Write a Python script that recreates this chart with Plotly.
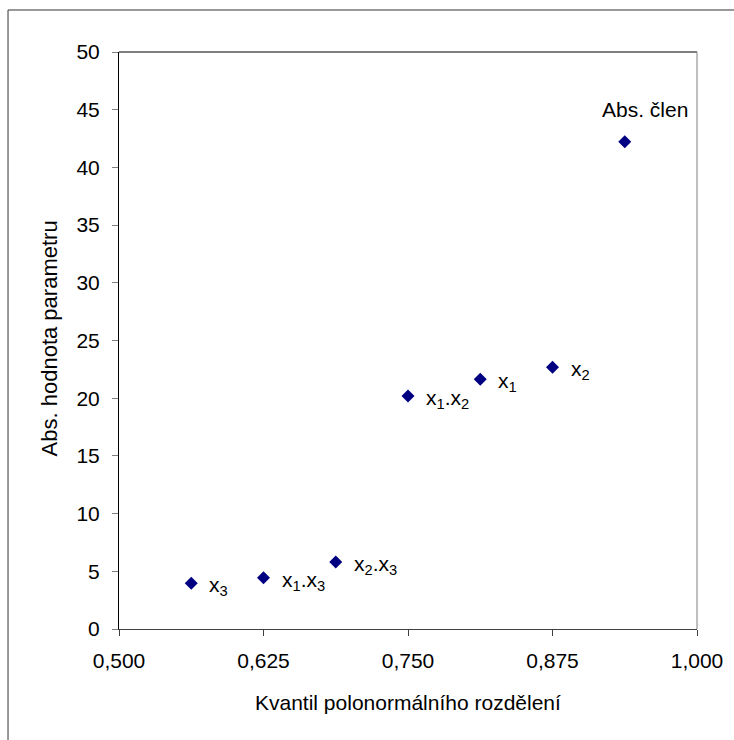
import plotly.graph_objects as go

# Half-normal plot of absolute parameter estimates
effects = ["x<sub>3</sub>", "x<sub>1</sub>.x<sub>3</sub>", "x<sub>2</sub>.x<sub>3</sub>",
           "x<sub>1</sub>.x<sub>2</sub>", "x<sub>1</sub>", "x<sub>2</sub>", "Abs. člen"]
quantiles = [0.5625, 0.625, 0.6875, 0.75, 0.8125, 0.875, 0.9375]
abs_values = [3.96, 4.45, 5.81, 20.19, 21.64, 22.68, 42.23]

x_ticks = [0.5, 0.625, 0.75, 0.875, 1.0]
x_tick_text = ["0,500", "0,625", "0,750", "0,875", "1,000"]
y_ticks = [0, 5, 10, 15, 20, 25, 30, 35, 40, 45, 50]

FONT = "Liberation Sans, Arial, sans-serif"

fig = go.Figure()
fig.add_trace(go.Scatter(
    x=quantiles, y=abs_values, mode="markers",
    marker=dict(symbol="diamond", size=10, color="#000080", line=dict(width=0)),
    showlegend=False, hoverinfo="x+y",
))

# point labels: effects to the right, intercept above
annotations = []
for name, qx, qy in zip(effects, quantiles, abs_values):
    if name == "Abs. člen":
        annotations.append(dict(x=qx, y=qy, text=name, showarrow=False,
                                xanchor="center", yanchor="middle",
                                xshift=20, yshift=32,
                                font=dict(family=FONT, size=21, color="#000")))
    else:
        annotations.append(dict(x=qx, y=qy, text=name, showarrow=False,
                                xanchor="left", yanchor="middle",
                                xshift=16, yshift=-3,
                                font=dict(family=FONT, size=21, color="#000")))

# axis titles
annotations.append(dict(xref="paper", yref="paper", x=0.5, y=-0.127,
                        text="Kvantil polonormálního rozdělení", showarrow=False,
                        xanchor="center", yanchor="middle",
                        font=dict(family=FONT, size=21, color="#000")))
annotations.append(dict(xref="paper", yref="paper", x=-0.12, y=0.503,
                        text="Abs. hodnota parametru", showarrow=False, textangle=-90,
                        xanchor="center", yanchor="middle",
                        font=dict(family=FONT, size=22, color="#000")))

shapes = [
    # top and right edges of the plot area
    dict(type="line", xref="paper", yref="paper", x0=0, x1=1, y0=1, y1=1,
         line=dict(color="#000", width=1)),
    dict(type="line", xref="paper", yref="paper", x0=1, x1=1, y0=0, y1=1,
         line=dict(color="#808080", width=1)),
    # chart frame
    dict(type="line", xref="paper", yref="paper", x0=-0.192, x1=1.2, y0=1.0728, y1=1.0728,
         line=dict(color="#333", width=1)),
    dict(type="line", xref="paper", yref="paper", x0=-0.192, x1=-0.192, y0=-0.3, y1=1.0728,
         line=dict(color="#333", width=1)),
]

fig.update_layout(
    width=734, height=740,
    margin=dict(l=119, r=37, t=52, b=111),
    paper_bgcolor="white", plot_bgcolor="white",
    font=dict(family=FONT, size=21, color="#000"),
    annotations=annotations, shapes=shapes,
    xaxis=dict(range=[0.5, 1.0], tickvals=x_ticks, ticktext=x_tick_text,
               showgrid=False, zeroline=False, showline=True, linecolor="#404040",
               linewidth=1, ticks="outside", ticklen=6, tickcolor="#404040",
               ticklabelstandoff=7, tickfont=dict(family=FONT, size=21, color="#000")),
    yaxis=dict(range=[0, 50], tickvals=y_ticks,
               showgrid=False, zeroline=False, showline=True, linecolor="#000",
               linewidth=1, ticks="outside", ticklen=6, tickcolor="#808080",
               ticklabelstandoff=8, tickfont=dict(family=FONT, size=21, color="#000")),
)

fig.write_html("out.html")
